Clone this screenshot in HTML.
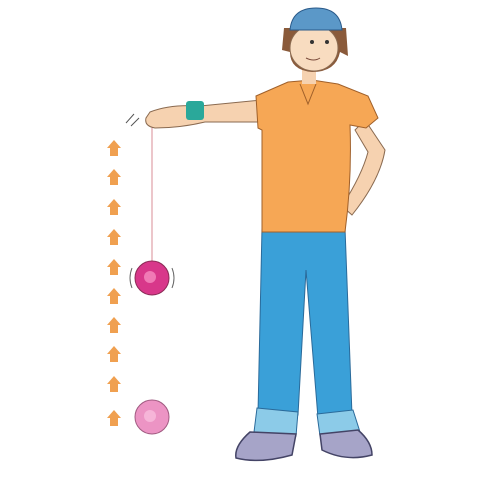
<!DOCTYPE html>
<html><head><meta charset="utf-8"><style>html,body{margin:0;padding:0;background:#fff}svg{display:block}</style></head>
<body>
<svg width="500" height="500" viewBox="0 0 500 500">
<rect width="500" height="500" fill="#fff"/>
<!-- arrows -->
<g fill="#f0a050">
<path d="M114 140 L121 148 L118 148 L118 156 L110 156 L110 148 L107 148Z"/>
<path d="M114 169 L121 177 L118 177 L118 185 L110 185 L110 177 L107 177Z"/>
<path d="M114 199 L121 207 L118 207 L118 215 L110 215 L110 207 L107 207Z"/>
<path d="M114 229 L121 237 L118 237 L118 245 L110 245 L110 237 L107 237Z"/>
<path d="M114 259 L121 267 L118 267 L118 275 L110 275 L110 267 L107 267Z"/>
<path d="M114 288 L121 296 L118 296 L118 304 L110 304 L110 296 L107 296Z"/>
<path d="M114 317 L121 325 L118 325 L118 333 L110 333 L110 325 L107 325Z"/>
<path d="M114 346 L121 354 L118 354 L118 362 L110 362 L110 354 L107 354Z"/>
<path d="M114 376 L121 384 L118 384 L118 392 L110 392 L110 384 L107 384Z"/>
<path d="M114 410 L121 418 L118 418 L118 426 L110 426 L110 418 L107 418Z"/>
</g>
<!-- string & yoyos -->
<line x1="152" y1="127" x2="152" y2="262" stroke="#e0a0a8" stroke-width="1.2"/>
<circle cx="152" cy="278" r="17" fill="#d8378a" stroke="#8a2a55" stroke-width="1"/>
<circle cx="150" cy="277" r="6" fill="#f07ab5"/>
<path d="M132 268 Q128 278 132 288 M172 268 Q176 278 172 288" stroke="#666" stroke-width="1" fill="none"/>
<circle cx="152" cy="417" r="17" fill="#ec94c4" stroke="#a05a80" stroke-width="1"/>
<circle cx="150" cy="416" r="6" fill="#f6b5d8"/>
<path d="M126 123 L134 114 M131 126 L139 118" stroke="#555" stroke-width="1" fill="none"/>
<!-- extended arm -->
<path d="M150 112 Q170 104 200 106 L262 100 L266 122 L205 122 Q180 128 155 128 Q144 126 146 118Z" fill="#f6d2b0" stroke="#8a6a50" stroke-width="1"/>
<rect x="186" y="101" width="18" height="19" rx="3" fill="#2aa89a"/>
<!-- right bent arm -->
<path d="M365 120 L385 150 Q380 180 352 215 L342 206 Q362 175 368 152 L355 130Z" fill="#f6d2b0" stroke="#8a6a50" stroke-width="1"/>
<!-- jeans -->
<path d="M262 228 L345 228 L352 415 L318 418 L306 270 L298 415 L258 413Z" fill="#3aa0d8" stroke="#2a6a9a" stroke-width="1"/>
<path d="M257 408 L298 412 L296 436 L254 432Z M317 414 L353 410 L360 432 L320 436Z" fill="#8ccbe8" stroke="#2a6a9a" stroke-width="1"/>
<!-- shoes -->
<path d="M250 432 L296 434 L292 455 Q260 464 236 458 Q234 446 250 432Z" fill="#a6a4c8" stroke="#444466" stroke-width="1.5"/>
<path d="M320 434 L358 430 Q372 442 372 455 Q346 462 322 450Z" fill="#a6a4c8" stroke="#444466" stroke-width="1.5"/>
<!-- shirt -->
<path d="M288 82 L312 80 L338 84 L368 96 L378 118 L366 128 L350 125 Q352 180 345 232 L262 232 Q262 180 262 130 L258 128 L256 96Z" fill="#f6a755" stroke="#a0602a" stroke-width="1"/>
<path d="M300 84 L308 104 L316 84" fill="none" stroke="#a0602a" stroke-width="1"/>
<!-- head -->
<rect x="302" y="62" width="14" height="22" fill="#f6d2b0"/>
<path d="M284 28 L346 28 L348 56 L340 52 Q336 72 312 72 Q290 70 290 52 L282 50Z" fill="#8a5a3a"/>
<ellipse cx="314" cy="48" rx="24" ry="23" fill="#f8dcc0" stroke="#8a6a50" stroke-width="1"/>
<path d="M290 30 Q292 8 316 8 Q340 8 342 30 Z" fill="#5b98c8" stroke="#2a5a8a" stroke-width="1"/>
<circle cx="312" cy="42" r="2" fill="#333"/><circle cx="327" cy="42" r="2" fill="#333"/>
<path d="M306 58 Q314 62 320 58" stroke="#7a4a3a" fill="none"/>
</svg>
</body></html>
